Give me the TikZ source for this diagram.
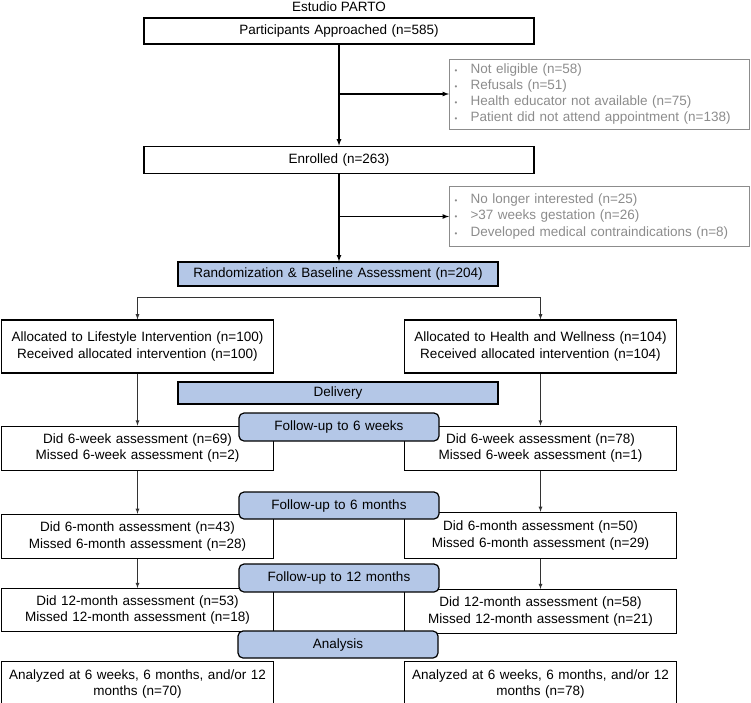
\documentclass[tikz,border=0pt]{standalone}
\usepackage{fontspec}
\setmainfont{Liberation Sans}
\usetikzlibrary{arrows,positioning,shapes}
\definecolor{boxblue}{RGB}{180,199,231}
\definecolor{exgray}{RGB}{140,140,140}
\newcommand{\bul}{\makebox[16pt][l]{\fontsize{8}{8}\selectfont\textbullet}}

\begin{document}
\begin{tikzpicture}[x=1pt,y=-1pt,font=\fontsize{13.5}{16.3}\selectfont]
	\tikzstyle{wide}=[draw, rectangle, line width=1.2pt, text width=382pt, inner xsep=4pt, minimum height=26pt, text centered]
	\tikzstyle{excl}=[draw=exgray, rectangle, line width=1pt, text=exgray, text width=290pt, inner xsep=5pt, inner ysep=2pt, align=left]
	\tikzstyle{arm}=[draw, rectangle, line width=1.2pt, text width=262pt, inner xsep=5pt, text centered]
	\tikzstyle{band}=[draw, rectangle, line width=1.2pt, fill=boxblue, text width=310pt, inner xsep=5pt, text centered]
	\tikzstyle{phase}=[draw, rectangle, line width=1.2pt, fill=boxblue, rounded corners=5pt, text width=190pt, inner xsep=5pt, minimum height=27pt, text centered]
	\tikzstyle{flow}=[->, >=latex, line width=1.2pt]
	\tikzstyle{step_l}=[->, >=latex, line width=0.8pt, black!80]

	\useasboundingbox (0,0) rectangle (751,702);

	\node (title) at (339,7) {Estudio PARTO};
	\node[wide] (approached) at (339,31) {Participants Approached (n=585)};
	\node[wide, minimum height=27pt] (enrolled) [below=101pt of approached] {Enrolled (n=263)};

	\node[excl, minimum height=70pt] (excl1) at (599.5,94) {\bul Not eligible (n=58)\\ \bul Refusals (n=51)\\ \bul Health educator not available (n=75)\\ \bul Patient did not attend appointment (n=138)};
	\node[excl, minimum height=60pt] (excl2) at (599.5,216.5) {\bul No longer interested (n=25)\\ \bul >37 weeks gestation (n=26)\\ \bul Developed medical contraindications (n=8)};

	\node[band, minimum height=24pt] (random) at (338,274) {Randomization \& Baseline Assessment (n=204)};

	\node[arm, minimum height=53pt] (allocL) at (137.5,346.5) {Allocated to Lifestyle Intervention (n=100)\\ Received allocated intervention (n=100)};
	\node[arm, minimum height=53pt] (allocR) at (540.5,346.5) {Allocated to Health and Wellness (n=104)\\ Received allocated intervention (n=104)};

	\node[band, minimum height=22pt] (delivery) at (338,393) {Delivery};

	\node[arm, minimum height=44pt] (wk6L) [below=52pt of allocL] {Did 6-week assessment (n=69)\\ Missed 6-week assessment (n=2)};
	\node[arm, minimum height=44pt] (wk6R) [below=52pt of allocR] {Did 6-week assessment (n=78)\\ Missed 6-week assessment (n=1)};

	\node[arm, minimum height=44pt] (mo6L) [below=43pt of wk6L] {Did 6-month assessment (n=43)\\ Missed 6-month assessment (n=28)};
	\node[arm, minimum height=46pt] (mo6R) [below=41pt of wk6R] {Did 6-month assessment (n=50)\\ Missed 6-month assessment (n=29)};

	\node[arm, minimum height=43pt] (mo12L) [below=29pt of mo6L] {Did 12-month assessment (n=53)\\ Missed 12-month assessment (n=18)};
	\node[arm, minimum height=44pt] (mo12R) [below=30pt of mo6R] {Did 12-month assessment (n=58)\\ Missed 12-month assessment (n=21)};

	\node[arm, minimum height=44pt] (anL) [below=29pt of mo12L] {Analyzed at 6 weeks, 6 months, and/or 12\\ months (n=70)};
	\node[arm, minimum height=44pt] (anR) [below=27pt of mo12R] {Analyzed at 6 weeks, 6 months, and/or 12\\ months (n=78)};

	\node[phase, minimum height=28pt] (fu6w) at (339,427) {Follow-up to 6 weeks};
	\node[phase] (fu6m) at (339,505.5) {Follow-up to 6 months};
	\node[phase, minimum height=28pt] (fu12m) at (339,578) {Follow-up to 12 months};
	\node[phase] (analysis) at (338,644.5) {Analysis};

	\draw[flow] (approached) -- (enrolled);
	\draw[flow] (approached.south |- excl1.west) -- (excl1.west);
	\draw[flow] (enrolled.south) -- (enrolled.south |- random.north);
	\draw[flow] (enrolled.south |- excl2.west) -- (excl2.west);

	\draw[step_l] (random.south) ++(0,11) -| (allocL.north);
	\draw[step_l] (random.south) ++(0,11) -| (allocR.north);

	\draw[step_l] (allocL) -- (wk6L);
	\draw[step_l] (wk6L) -- (mo6L);
	\draw[step_l] (mo6L) -- (mo12L);

	\draw[step_l] (allocR) -- (wk6R);
	\draw[step_l] (wk6R) -- (mo6R);
	\draw[step_l] (mo6R) -- (mo12R);
\end{tikzpicture}
\end{document}
